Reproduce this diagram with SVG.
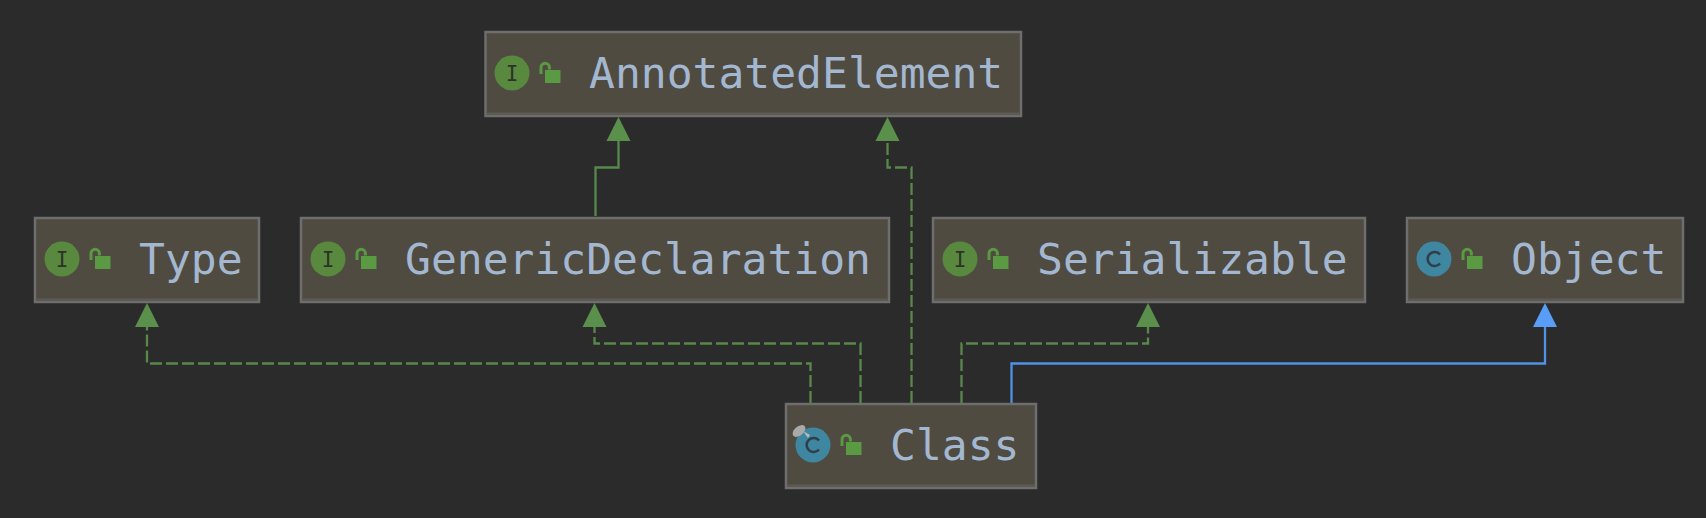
<svg xmlns="http://www.w3.org/2000/svg" width="1706" height="518" viewBox="0 0 1706 518">
<style>
.box{fill:#4f4b41;stroke:#6e6e6e;stroke-width:2.5}
.sd{fill:#5d5b54}
.lbl{font-family:"DejaVu Sans Mono","Liberation Mono",monospace;font-size:43px;fill:#a4b7d0}
.ig{fill:#58893f}.cg{fill:#3f86a0}
.gl{font-family:"DejaVu Sans Mono","Liberation Mono",monospace;font-size:21px;fill:#2c3427;text-anchor:middle}
.c{fill:none;stroke-width:2.3}
.g{stroke:#58894a}.b{stroke:#4f92e6}
.d{stroke-dasharray:12 4}
.ga{fill:#5a8f4c}.ba{fill:#589df6}
.lk{fill:#5a9a42}.sh{fill:none;stroke:#5a9a42;stroke-width:3}
.cc{fill:none;stroke:#2f3f4a;stroke-width:2.6}
</style>
<defs>
<g id="lock"><path class="sh" d="M1 11V4.500a4.200 4.200 0 0 1 8.400 0V6.500"/><rect class="lk" x="5" y="7" width="15.500" height="13"/></g>
<g id="ic"><circle class="ig" r="17.500"/><text class="gl" y="7.500">I</text></g>
<g id="cc"><circle class="cg" r="17.500"/><path class="cc" d="M6 -4.500A7 7 0 1 0 6 4.500"/></g>
</defs>
<rect width="1706" height="518" fill="#2b2b2b"/>
<g id="connectors">
<path class="c g" d="M595.500 216V167.500H618.500V140"/>
<path class="c g d" d="M911.500 403V167.500H887.500V140"/>
<path class="c g d" d="M810.500 403V363.500H147V326"/>
<path class="c g d" d="M860.500 403V343.500H594.500V326"/>
<path class="c g d" d="M961.500 403V343.500H1148V326"/>
<path class="c b" d="M1011.500 403V363.500H1545V326"/>
<path class="ga" d="M618.500 117l12 24h-24z"/>
<path class="ga" d="M887.500 117l12 24h-24z"/>
<path class="ga" d="M147 303l12 24h-24z"/>
<path class="ga" d="M594.500 303l12 24h-24z"/>
<path class="ga" d="M1148 303l12 24h-24z"/>
<path class="ba" d="M1545 303l12 24h-24z"/>
</g>
<g id="AnnotatedElement"><rect class="box" x="485.500" y="32" width="535.500" height="84"/><rect class="sd" x="486.750" y="112.500" width="533" height="2.300"/><use href="#ic" x="512" y="73"/><use href="#lock" x="540" y="63"/><text class="lbl" x="589" y="88">AnnotatedElement</text></g>
<g id="Type"><rect class="box" x="35" y="218" width="224" height="84"/><rect class="sd" x="36.250" y="298.500" width="221.500" height="2.300"/><use href="#ic" x="62" y="259"/><use href="#lock" x="90" y="249"/><text class="lbl" x="139" y="274">Type</text></g>
<g id="GenericDeclaration"><rect class="box" x="301" y="218" width="588" height="84"/><rect class="sd" x="302.250" y="298.500" width="585.500" height="2.300"/><use href="#ic" x="328" y="259"/><use href="#lock" x="356" y="249"/><text class="lbl" x="405" y="274">GenericDeclaration</text></g>
<g id="Serializable"><rect class="box" x="933" y="218" width="432" height="84"/><rect class="sd" x="934.250" y="298.500" width="429.500" height="2.300"/><use href="#ic" x="960" y="259"/><use href="#lock" x="988" y="249"/><text class="lbl" x="1037" y="274">Serializable</text></g>
<g id="Object"><rect class="box" x="1407" y="218" width="276" height="84"/><rect class="sd" x="1408.250" y="298.500" width="273.500" height="2.300"/><use href="#cc" x="1434" y="259"/><use href="#lock" x="1462" y="249"/><text class="lbl" x="1511" y="274">Object</text></g>
<g id="Class"><rect class="box" x="786" y="404" width="250" height="84"/><rect class="sd" x="787.250" y="484.500" width="247.500" height="2.300"/><use href="#cc" x="813" y="445"/><path d="M803 431l7 4-2 3z" fill="#b5bcc0"/><ellipse cx="799" cy="431" rx="7.500" ry="4.500" fill="#a9a9a9" transform="rotate(-40 799 431)"/><use href="#lock" x="841" y="435"/><text class="lbl" x="890" y="460">Class</text></g>
</svg>
